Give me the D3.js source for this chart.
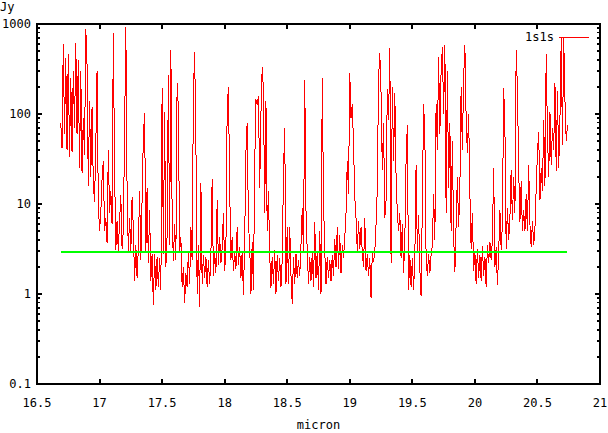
<!DOCTYPE html>
<html>
<head>
<meta charset="utf-8">
<script src="https://cdn.jsdelivr.net/npm/d3@7/dist/d3.min.js"></script>
<style>
html,body{margin:0;padding:0;background:#fff;}
svg{display:block;}
text{font-family:"DejaVu Sans Mono","Liberation Mono",monospace;font-size:12px;fill:#000;}
</style>
</head>
<body>
<svg id="chart" width="608" height="433"></svg>
<script>
// ---- data ----
const seriesName = "1s1s";
const xLabel = "micron";
const yLabel = "Jy";
const xTicks = [16.5, 17, 17.5, 18, 18.5, 19, 19.5, 20, 20.5, 21];
const xTickLabels = ["16.5", "17", "17.5", "18", "18.5", "19", "19.5", "20", "20.5", "21"];
const yTicks = [0.1, 1, 10, 100, 1000];
const yTickLabels = ["0.1", "1", "10", "100", "1000"];
const wavelengthStart = 16.69;   // micron, sampling grid of the spectrum
const wavelengthStep = 0.01;
const flux = [
  80,
  42, 600, 60, 420, 40,
  470, 33, 250, 38, 300,
  70, 620, 60, 400, 25,
  300, 22, 90, 35, 880,
  350, 16, 140, 20, 120,
  17, 10.5, 45, 300, 10,
  5, 8, 19, 30, 5,
  7, 3.7, 40, 8, 14,
  6, 800, 25, 3.1, 6.5,
  3.0, 6.5, 12.6, 3.2, 5,
  60, 930, 14, 3.0, 7,
  3.0, 12, 5.5, 1.4, 3.5,
  1.5, 3.2, 14, 2.4, 11,
  56, 103, 3, 15, 2.2,
  8.5, 1.4, 2.8, 0.75, 2.8,
  1.1, 2.6, 1.2, 2.5, 1.1,
  195, 2.8, 105, 2.0, 4.5,
  270, 3.5, 510, 8, 2.3,
  6, 2.4, 220, 115, 3,
  4.3, 1.2, 2.0, 0.8, 1.7,
  1.2, 2.9, 1.3, 5.6, 2.4,
  160, 490, 50, 1.0, 3.5,
  0.72, 17, 1.3, 2.7, 1.5,
  2.6, 1.2, 2.4, 1.3, 2.7,
  19, 1.6, 3.0, 1.7, 11,
  2.1, 4.3, 2.2, 3.2, 8,
  1.8, 3.2, 110, 200, 16,
  2.4, 4.3, 1.8, 3.0, 1.9,
  5.6, 2.1, 3.3, 1.5, 3,
  0.97, 4, 38, 80, 6,
  3.5, 1.0, 3.8, 1.1, 26,
  145, 125, 160, 15, 100,
  330, 190, 8, 140, 5,
  14, 2.7, 1.17, 2.6, 1.3,
  3.1, 1.0, 2.7, 1.4, 2.5,
  1.2, 2.4, 22, 70, 1.3,
  5.5, 1.3, 5.5, 1.6, 0.77,
  2.6, 1.3, 2.8, 1.5, 2.4,
  1.6, 3.5, 9, 3, 240,
  8.5, 3, 1.3, 2.6, 1.4,
  2.9, 1.2, 6.3, 1.5, 3.0,
  1.1, 5, 1.0, 250, 11,
  3, 1.3, 2.6, 1.5, 2.4,
  1.4, 2.7, 1.6, 4.1, 2.0,
  5.5, 1.9, 4.5, 1.7, 3.5,
  2.5, 4.2, 8, 30, 13,
  285, 90, 130, 45, 12,
  7, 3, 6.5, 3.2, 5.5,
  2.9, 2.0, 7, 1.8, 2.8,
  1.6, 2.5, 0.9, 2.9, 2.3,
  3, 6, 15, 250, 470,
  170, 24, 80, 7, 11,
  190, 86, 540, 2.2, 200,
  30, 170, 20, 8, 5,
  8, 2.5, 6, 1.7, 4,
  31, 75, 1.1, 2.7, 1.2,
  2.5, 1.1, 2.6, 27, 3,
  7.5, 1.9, 0.95, 10, 130,
  60, 2.6, 1.6, 2.8, 1.7,
  2.7, 3.5, 13, 4, 130,
  40, 430, 60, 300, 555,
  100, 580, 8, 300, 15,
  80, 5, 50, 4.5, 1.75,
  6, 20, 5.5, 15, 200,
  40, 250, 580, 90, 37,
  100, 13, 3.2, 8, 1.8,
  2.9, 1.3, 3.2, 1.5, 2.7,
  1.4, 3.4, 1.6, 2.6, 1.2,
  3.5, 2.2, 3.8, 2.4, 4,
  25, 2.0, 3.3, 1.25, 2.8,
  8.5, 3.1, 6, 195, 72,
  3.2, 9, 4, 7, 24,
  6.6, 20, 8, 510, 190,
  25, 6.3, 18, 5, 8.5,
  5, 13, 5, 27, 6,
  3.3, 6.5, 3.5, 5.4, 15,
  37, 63, 11, 25, 14,
  85, 16, 460, 60, 20,
  105, 27, 70, 40, 220,
  23, 180, 25, 90, 700,
  45, 720, 140, 50, 75
];
const thresholdX = [16.69, 20.74];
const thresholdY = [2.93, 2.93];

// ---- layout ----
const W = 608, H = 433;
const L = 37, R = 600, T = 24, B = 384;

const svg = d3.select("#chart");
svg.append("rect").attr("width", W).attr("height", H).attr("fill", "#fff");

const x = d3.scaleLinear().domain([16.5, 21]).range([L, R]);
const y = d3.scaleLog().domain([0.1, 1000]).range([B, T]);

const spectrum = flux.map((v, i) => [wavelengthStart + i * wavelengthStep, v]);
const threshold = thresholdX.map((v, i) => [v, thresholdY[i]]);

const line = d3.line().x(d => x(d[0])).y(d => y(d[1]));

// red spectrum
svg.append("path")
  .datum(spectrum)
  .attr("d", line)
  .attr("fill", "none")
  .attr("stroke", "#ff0000")
  .attr("stroke-width", 1)
  .attr("shape-rendering", "crispEdges");

// green threshold
svg.append("path")
  .datum(threshold)
  .attr("d", line)
  .attr("fill", "none")
  .attr("stroke", "#00ff00")
  .attr("stroke-width", 2)
  .attr("shape-rendering", "crispEdges");

// ticks
const ticksG = svg.append("g").attr("stroke", "#000").attr("stroke-width", 2).attr("shape-rendering", "crispEdges");
xTicks.forEach(t => {
  ticksG.append("line").attr("x1", x(t)).attr("x2", x(t)).attr("y1", B).attr("y2", B - 5);
  ticksG.append("line").attr("x1", x(t)).attr("x2", x(t)).attr("y1", T).attr("y2", T + 5);
});
const minor = [];
for (let d = 0; d < yTicks.length - 1; d++) {
  for (let k = 2; k <= 9; k++) minor.push(yTicks[d] * k);
}
yTicks.forEach(t => {
  ticksG.append("line").attr("x1", L).attr("x2", L + 5).attr("y1", y(t)).attr("y2", y(t));
  ticksG.append("line").attr("x1", R).attr("x2", R - 5).attr("y1", y(t)).attr("y2", y(t));
});
minor.forEach(t => {
  ticksG.append("line").attr("x1", L).attr("x2", L + 3).attr("y1", y(t)).attr("y2", y(t)).attr("stroke-width", 1.5);
  ticksG.append("line").attr("x1", R).attr("x2", R - 3).attr("y1", y(t)).attr("y2", y(t)).attr("stroke-width", 1.5);
});

// frame
svg.append("rect")
  .attr("x", L).attr("y", T).attr("width", R - L).attr("height", B - T)
  .attr("fill", "none").attr("stroke", "#000").attr("stroke-width", 2)
  .attr("shape-rendering", "crispEdges");

// tick labels
xTicks.forEach((t, i) => {
  svg.append("text").attr("x", x(t)).attr("y", 407).attr("text-anchor", "middle").text(xTickLabels[i]);
});
yTicks.forEach((t, i) => {
  svg.append("text").attr("x", 31).attr("y", y(t) + 4).attr("text-anchor", "end").text(yTickLabels[i]);
});

// axis labels
svg.append("text").attr("x", (L + R) / 2).attr("y", 429).attr("text-anchor", "middle").text(xLabel);
svg.append("text").attr("x", 0).attr("y", 11).text(yLabel);

// legend
svg.append("text").attr("x", 554).attr("y", 41).attr("text-anchor", "end").text(seriesName);
svg.append("line").attr("x1", 559).attr("x2", 589).attr("y1", 37).attr("y2", 37)
  .attr("stroke", "#ff0000").attr("stroke-width", 1).attr("shape-rendering", "crispEdges");
</script>
</body>
</html>
